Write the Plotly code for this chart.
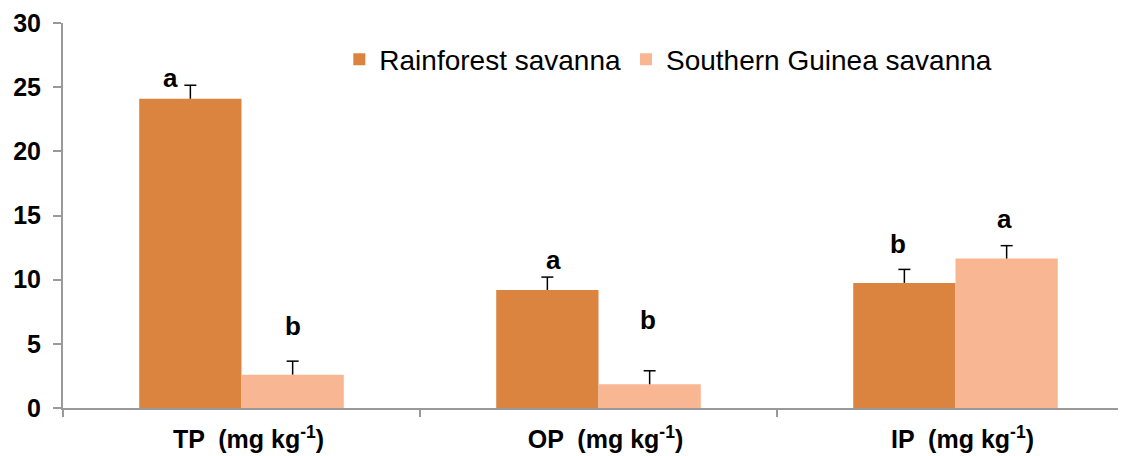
import plotly.graph_objects as go

categories = ["TP", "OP", "IP"]
tick_labels = ["TP  (mg kg<sup>-1</sup>)", "OP  (mg kg<sup>-1</sup>)", "IP  (mg kg<sup>-1</sup>)"]
rainforest = [24.1, 9.2, 9.75]
rainforest_err = [1.05, 1.0, 1.05]
guinea = [2.6, 1.85, 11.65]
guinea_err = [1.05, 1.05, 1.0]
rainforest_letters = ["a", "a", "b"]
guinea_letters = ["b", "b", "a"]

C_RF = "#DB843F"
C_SG = "#F9B692"
FONT = "Liberation Sans, Arial, sans-serif"
BARGAP = 0.427
HALF = (1 - BARGAP) / 4  # offset of each bar centre from category centre
CAP = 0.0168

fig = go.Figure()
fig.add_trace(go.Bar(
    x=categories, y=rainforest, name="Rainforest savanna",
    marker=dict(color=C_RF, line=dict(width=0)),
))
fig.add_trace(go.Bar(
    x=categories, y=guinea, name="Southern Guinea savanna",
    marker=dict(color=C_SG, line=dict(width=0)),
))

# upper-only error bars (drawn as shapes so no cap appears at the bar top)
for vals, errs, side in ((rainforest, rainforest_err, -1), (guinea, guinea_err, 1)):
    for i in range(len(categories)):
        xc = i + side * HALF
        top = vals[i] + errs[i]
        fig.add_shape(type="line", xref="x", yref="y", x0=xc, x1=xc, y0=vals[i], y1=top,
                      line=dict(color="black", width=1.5), layer="above")
        fig.add_shape(type="line", xref="x", yref="y", x0=xc - CAP, x1=xc + CAP, y0=top, y1=top,
                      line=dict(color="black", width=1.5), layer="above")

# significance letters: (x pixel shift, y position in data units)
letter_pos_rf = [(-20, 25.75), (6, 11.5), (-7, 12.8)]
letter_pos_sg = [(0, 6.4), (-2, 6.85), (-2, 14.75)]
for i, c in enumerate(categories):
    for letters, pos, side in ((rainforest_letters, letter_pos_rf, -1), (guinea_letters, letter_pos_sg, 1)):
        dx, yy = pos[i]
        fig.add_annotation(
            x=i, y=yy, text=letters[i], showarrow=False,
            xshift=side * 51 + dx, yanchor="middle",
            font=dict(family=FONT, size=26, color="black", weight="bold"),
        )

fig.update_layout(
    width=1126, height=456,
    margin=dict(l=55, r=0, t=15, b=56),
    paper_bgcolor="white", plot_bgcolor="white",
    barmode="group", bargap=BARGAP, bargroupgap=0,
    showlegend=True,
    legend=dict(orientation="h", x=0.258, y=0.97, xanchor="left", yanchor="top",
                font=dict(family=FONT, size=28, color="black"),
                bgcolor="rgba(0,0,0,0)", itemwidth=30, tracegroupgap=0),
    font=dict(family=FONT, color="black"),
)
fig.update_xaxes(
    tickmode="array", tickvals=categories, ticktext=tick_labels,
    range=[-0.5, 2.5], automargin=False,
    tickson="boundaries", ticks="outside", ticklen=7, tickcolor="#999999", tickwidth=1.5,
    showline=True, linecolor="#999999", linewidth=2,
    tickfont=dict(family=FONT, size=25, color="black", weight="bold"),
    ticklabelstandoff=8, ticklabelshift=7,
    showgrid=False,
)
fig.update_yaxes(
    range=[0, 30], tickvals=[0, 5, 10, 15, 20, 25, 30], automargin=False,
    ticks="outside", ticklen=8, tickcolor="#999999", tickwidth=1.5,
    showline=True, linecolor="#999999", linewidth=2,
    tickfont=dict(family=FONT, size=25, color="black", weight="bold"),
    ticklabelstandoff=7,
    showgrid=False, zeroline=False,
)

fig.write_html("out.html")
